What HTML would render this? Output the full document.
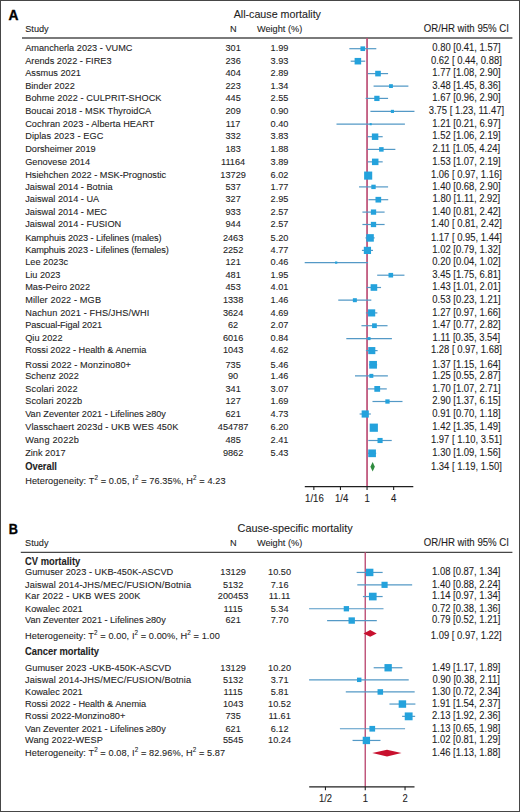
<!DOCTYPE html>
<html><head><meta charset="utf-8"><style>
html,body{margin:0;padding:0;background:#fff;}
body{width:520px;height:812px;overflow:hidden;}
svg{display:block;font-family:'Liberation Sans',sans-serif;}
text{stroke:#222;stroke-width:0.1px;paint-order:stroke;}
</style></head><body>
<svg width="520" height="812" viewBox="0 0 520 812" style="font-family:'Liberation Sans',sans-serif">
<rect x="0.5" y="0.5" width="519" height="811" fill="none" stroke="#464646" stroke-width="1"/>
<text transform="translate(8.50 19.55) scale(1.0000 1)" font-size="13.800" text-anchor="start" font-weight="bold" fill="#000" style="stroke:#000;stroke-width:0.35px">A</text>
<text transform="translate(277.30 17.50) scale(0.9259 1)" font-size="11.556" text-anchor="middle" fill="#1e1e1e">All-cause mortality</text>
<text transform="translate(25.20 32.40) scale(0.9259 1)" font-size="9.936" text-anchor="start" fill="#1e1e1e">Study</text>
<text transform="translate(233.40 32.40) scale(0.9259 1)" font-size="9.936" text-anchor="middle" fill="#1e1e1e">N</text>
<text transform="translate(279.60 32.40) scale(0.9259 1)" font-size="9.936" text-anchor="middle" fill="#1e1e1e">Weight (%)</text>
<text transform="translate(509.00 32.40) scale(0.9259 1)" font-size="10.422" text-anchor="end" fill="#1e1e1e">OR/HR with 95% CI</text>
<line x1="22.00" y1="37.90" x2="512.40" y2="37.90" stroke="#4e4e4e" stroke-width="1.5"/>
<line x1="367.05" y1="37.90" x2="367.05" y2="486.60" stroke="#bd4f76" stroke-width="1.7"/>
<text transform="translate(25.20 51.45) scale(0.9259 1)" font-size="9.936" text-anchor="start" fill="#1e1e1e">Amancherla 2023 - VUMC</text>
<text transform="translate(233.10 51.45) scale(0.9259 1)" font-size="9.936" text-anchor="middle" fill="#1e1e1e">301</text>
<text transform="translate(279.50 51.45) scale(0.9259 1)" font-size="9.936" text-anchor="middle" fill="#1e1e1e">1.99</text>
<text transform="translate(466.40 51.45) scale(0.9259 1)" font-size="10.217" text-anchor="middle" fill="#1e1e1e">0.80 [0.41, 1.57]</text>
<line x1="349.94" y1="48.70" x2="375.71" y2="48.70" stroke="#5399c6" stroke-width="1.2" stroke-linecap="square"/>
<rect x="360.44" y="46.37" width="4.66" height="4.66" fill="#24a2dc"/>
<text transform="translate(25.20 63.95) scale(0.9259 1)" font-size="9.936" text-anchor="start" fill="#1e1e1e">Arends 2022 - FIRE3</text>
<text transform="translate(233.10 63.95) scale(0.9259 1)" font-size="9.936" text-anchor="middle" fill="#1e1e1e">236</text>
<text transform="translate(279.50 63.95) scale(0.9259 1)" font-size="9.936" text-anchor="middle" fill="#1e1e1e">3.93</text>
<text transform="translate(466.40 63.95) scale(0.9259 1)" font-size="10.217" text-anchor="middle" fill="#1e1e1e">0.62 [ 0.44, 0.88]</text>
<line x1="351.30" y1="61.20" x2="364.60" y2="61.20" stroke="#5399c6" stroke-width="1.2" stroke-linecap="square"/>
<rect x="354.61" y="57.93" width="6.54" height="6.54" fill="#24a2dc"/>
<text transform="translate(25.20 76.35) scale(0.9259 1)" font-size="9.936" text-anchor="start" fill="#1e1e1e">Assmus 2021</text>
<text transform="translate(233.10 76.35) scale(0.9259 1)" font-size="9.936" text-anchor="middle" fill="#1e1e1e">404</text>
<text transform="translate(279.50 76.35) scale(0.9259 1)" font-size="9.936" text-anchor="middle" fill="#1e1e1e">2.89</text>
<text transform="translate(466.40 76.35) scale(0.9259 1)" font-size="10.217" text-anchor="middle" fill="#1e1e1e">1.77 [1.08, 2.90]</text>
<line x1="368.53" y1="73.60" x2="387.48" y2="73.60" stroke="#5399c6" stroke-width="1.2" stroke-linecap="square"/>
<rect x="375.20" y="70.79" width="5.61" height="5.61" fill="#24a2dc"/>
<text transform="translate(25.20 88.85) scale(0.9259 1)" font-size="9.936" text-anchor="start" fill="#1e1e1e">Binder 2022</text>
<text transform="translate(233.10 88.85) scale(0.9259 1)" font-size="9.936" text-anchor="middle" fill="#1e1e1e">223</text>
<text transform="translate(279.50 88.85) scale(0.9259 1)" font-size="9.936" text-anchor="middle" fill="#1e1e1e">1.34</text>
<text transform="translate(466.40 88.85) scale(0.9259 1)" font-size="10.217" text-anchor="middle" fill="#1e1e1e">3.48 [1.45, 8.36]</text>
<line x1="374.18" y1="86.10" x2="407.79" y2="86.10" stroke="#5399c6" stroke-width="1.2" stroke-linecap="square"/>
<rect x="389.07" y="84.19" width="3.82" height="3.82" fill="#24a2dc"/>
<text transform="translate(25.20 101.15) scale(0.9259 1)" font-size="9.936" text-anchor="start" fill="#1e1e1e" textLength="147.22" lengthAdjust="spacing">Bohme 2022 - CULPRIT-SHOCK</text>
<text transform="translate(233.10 101.15) scale(0.9259 1)" font-size="9.936" text-anchor="middle" fill="#1e1e1e">445</text>
<text transform="translate(279.50 101.15) scale(0.9259 1)" font-size="9.936" text-anchor="middle" fill="#1e1e1e">2.55</text>
<text transform="translate(466.40 101.15) scale(0.9259 1)" font-size="10.217" text-anchor="middle" fill="#1e1e1e">1.67 [0.96, 2.90]</text>
<line x1="366.27" y1="98.40" x2="387.48" y2="98.40" stroke="#5399c6" stroke-width="1.2" stroke-linecap="square"/>
<rect x="374.26" y="95.77" width="5.27" height="5.27" fill="#24a2dc"/>
<text transform="translate(25.20 114.15) scale(0.9259 1)" font-size="9.936" text-anchor="start" fill="#1e1e1e" textLength="136.14" lengthAdjust="spacing">Boucai 2018 - MSK ThyroidCA</text>
<text transform="translate(233.10 114.15) scale(0.9259 1)" font-size="9.936" text-anchor="middle" fill="#1e1e1e">209</text>
<text transform="translate(279.50 114.15) scale(0.9259 1)" font-size="9.936" text-anchor="middle" fill="#1e1e1e">0.90</text>
<text transform="translate(466.40 114.15) scale(0.9259 1)" font-size="10.217" text-anchor="middle" fill="#1e1e1e">3.75 [ 1.23, 11.47]</text>
<line x1="371.02" y1="111.40" x2="413.86" y2="111.40" stroke="#5399c6" stroke-width="1.2" stroke-linecap="square"/>
<rect x="390.85" y="109.83" width="3.13" height="3.13" fill="#24a2dc"/>
<text transform="translate(25.20 126.95) scale(0.9259 1)" font-size="9.936" text-anchor="start" fill="#1e1e1e" textLength="139.46" lengthAdjust="spacing">Cochran 2023 - Alberta HEART</text>
<text transform="translate(233.10 126.95) scale(0.9259 1)" font-size="9.936" text-anchor="middle" fill="#1e1e1e">117</text>
<text transform="translate(279.50 126.95) scale(0.9259 1)" font-size="9.936" text-anchor="middle" fill="#1e1e1e">0.40</text>
<text transform="translate(466.40 126.95) scale(0.9259 1)" font-size="10.217" text-anchor="middle" fill="#1e1e1e">1.21 [0.21, 6.97]</text>
<line x1="337.10" y1="124.20" x2="404.31" y2="124.20" stroke="#5399c6" stroke-width="1.2" stroke-linecap="square"/>
<rect x="369.66" y="123.16" width="2.09" height="2.09" fill="#24a2dc"/>
<text transform="translate(25.20 139.45) scale(0.9259 1)" font-size="9.936" text-anchor="start" fill="#1e1e1e" textLength="84.36" lengthAdjust="spacing">Diplas 2023 - EGC</text>
<text transform="translate(233.10 139.45) scale(0.9259 1)" font-size="9.936" text-anchor="middle" fill="#1e1e1e">332</text>
<text transform="translate(279.50 139.45) scale(0.9259 1)" font-size="9.936" text-anchor="middle" fill="#1e1e1e">3.83</text>
<text transform="translate(466.40 139.45) scale(0.9259 1)" font-size="10.217" text-anchor="middle" fill="#1e1e1e">1.52 [1.06, 2.19]</text>
<line x1="368.17" y1="136.70" x2="382.09" y2="136.70" stroke="#5399c6" stroke-width="1.2" stroke-linecap="square"/>
<rect x="371.86" y="133.47" width="6.46" height="6.46" fill="#24a2dc"/>
<text transform="translate(25.20 152.15) scale(0.9259 1)" font-size="9.936" text-anchor="start" fill="#1e1e1e">Dorsheimer 2019</text>
<text transform="translate(233.10 152.15) scale(0.9259 1)" font-size="9.936" text-anchor="middle" fill="#1e1e1e">183</text>
<text transform="translate(279.50 152.15) scale(0.9259 1)" font-size="9.936" text-anchor="middle" fill="#1e1e1e">1.88</text>
<text transform="translate(466.40 152.15) scale(0.9259 1)" font-size="10.217" text-anchor="middle" fill="#1e1e1e">2.11 [1.05, 4.24]</text>
<line x1="367.99" y1="149.40" x2="394.77" y2="149.40" stroke="#5399c6" stroke-width="1.2" stroke-linecap="square"/>
<rect x="379.11" y="147.14" width="4.52" height="4.52" fill="#24a2dc"/>
<text transform="translate(25.20 164.60) scale(0.9259 1)" font-size="9.936" text-anchor="start" fill="#1e1e1e">Genovese 2014</text>
<text transform="translate(233.10 164.60) scale(0.9259 1)" font-size="9.936" text-anchor="middle" fill="#1e1e1e">11164</text>
<text transform="translate(279.50 164.60) scale(0.9259 1)" font-size="9.936" text-anchor="middle" fill="#1e1e1e">3.89</text>
<text transform="translate(466.40 164.60) scale(0.9259 1)" font-size="10.217" text-anchor="middle" fill="#1e1e1e">1.53 [1.07, 2.19]</text>
<line x1="368.35" y1="161.85" x2="382.09" y2="161.85" stroke="#5399c6" stroke-width="1.2" stroke-linecap="square"/>
<rect x="371.96" y="158.60" width="6.51" height="6.51" fill="#24a2dc"/>
<text transform="translate(25.20 178.35) scale(0.9259 1)" font-size="9.936" text-anchor="start" fill="#1e1e1e">Hsiehchen 2022 - MSK-Prognostic</text>
<text transform="translate(233.10 178.35) scale(0.9259 1)" font-size="9.936" text-anchor="middle" fill="#1e1e1e">13729</text>
<text transform="translate(279.50 178.35) scale(0.9259 1)" font-size="9.936" text-anchor="middle" fill="#1e1e1e">6.02</text>
<text transform="translate(466.40 178.35) scale(0.9259 1)" font-size="10.217" text-anchor="middle" fill="#1e1e1e">1.06 [ 0.97, 1.16]</text>
<line x1="366.47" y1="175.60" x2="369.90" y2="175.60" stroke="#5399c6" stroke-width="1.2" stroke-linecap="square"/>
<rect x="364.12" y="171.55" width="8.10" height="8.10" fill="#24a2dc"/>
<text transform="translate(25.20 189.65) scale(0.9259 1)" font-size="9.936" text-anchor="start" fill="#1e1e1e">Jaiswal 2014 - Botnia</text>
<text transform="translate(233.10 189.65) scale(0.9259 1)" font-size="9.936" text-anchor="middle" fill="#1e1e1e">537</text>
<text transform="translate(279.50 189.65) scale(0.9259 1)" font-size="9.936" text-anchor="middle" fill="#1e1e1e">1.77</text>
<text transform="translate(466.40 189.65) scale(0.9259 1)" font-size="10.217" text-anchor="middle" fill="#1e1e1e">1.40 [0.68, 2.90]</text>
<line x1="359.65" y1="186.90" x2="387.48" y2="186.90" stroke="#5399c6" stroke-width="1.2" stroke-linecap="square"/>
<rect x="371.31" y="184.70" width="4.39" height="4.39" fill="#24a2dc"/>
<text transform="translate(25.20 202.45) scale(0.9259 1)" font-size="9.936" text-anchor="start" fill="#1e1e1e">Jaiswal 2014 - UA</text>
<text transform="translate(233.10 202.45) scale(0.9259 1)" font-size="9.936" text-anchor="middle" fill="#1e1e1e">327</text>
<text transform="translate(279.50 202.45) scale(0.9259 1)" font-size="9.936" text-anchor="middle" fill="#1e1e1e">2.95</text>
<text transform="translate(466.40 202.45) scale(0.9259 1)" font-size="10.217" text-anchor="middle" fill="#1e1e1e">1.80 [1.11, 2.92]</text>
<line x1="369.05" y1="199.70" x2="387.61" y2="199.70" stroke="#5399c6" stroke-width="1.2" stroke-linecap="square"/>
<rect x="375.49" y="196.87" width="5.67" height="5.67" fill="#24a2dc"/>
<text transform="translate(25.20 214.85) scale(0.9259 1)" font-size="9.936" text-anchor="start" fill="#1e1e1e">Jaiswal 2014 - MEC</text>
<text transform="translate(233.10 214.85) scale(0.9259 1)" font-size="9.936" text-anchor="middle" fill="#1e1e1e">933</text>
<text transform="translate(279.50 214.85) scale(0.9259 1)" font-size="9.936" text-anchor="middle" fill="#1e1e1e">2.57</text>
<text transform="translate(466.40 214.85) scale(0.9259 1)" font-size="10.217" text-anchor="middle" fill="#1e1e1e">1.40 [0.81, 2.42]</text>
<line x1="363.01" y1="212.10" x2="384.01" y2="212.10" stroke="#5399c6" stroke-width="1.2" stroke-linecap="square"/>
<rect x="370.86" y="209.45" width="5.29" height="5.29" fill="#24a2dc"/>
<text transform="translate(25.20 227.25) scale(0.9259 1)" font-size="9.936" text-anchor="start" fill="#1e1e1e">Jaiswal 2014 - FUSION</text>
<text transform="translate(233.10 227.25) scale(0.9259 1)" font-size="9.936" text-anchor="middle" fill="#1e1e1e">944</text>
<text transform="translate(279.50 227.25) scale(0.9259 1)" font-size="9.936" text-anchor="middle" fill="#1e1e1e">2.57</text>
<text transform="translate(466.40 227.25) scale(0.9259 1)" font-size="10.217" text-anchor="middle" fill="#1e1e1e">1.40 [ 0.81, 2.42]</text>
<line x1="363.01" y1="224.50" x2="384.01" y2="224.50" stroke="#5399c6" stroke-width="1.2" stroke-linecap="square"/>
<rect x="370.86" y="221.85" width="5.29" height="5.29" fill="#24a2dc"/>
<text transform="translate(25.20 240.65) scale(0.9259 1)" font-size="9.936" text-anchor="start" fill="#1e1e1e" textLength="147.22" lengthAdjust="spacing">Kamphuis 2023 - Lifelines (males)</text>
<text transform="translate(233.10 240.65) scale(0.9259 1)" font-size="9.936" text-anchor="middle" fill="#1e1e1e">2463</text>
<text transform="translate(279.50 240.65) scale(0.9259 1)" font-size="9.936" text-anchor="middle" fill="#1e1e1e">5.20</text>
<text transform="translate(466.40 240.65) scale(0.9259 1)" font-size="10.217" text-anchor="middle" fill="#1e1e1e">1.17 [ 0.95, 1.44]</text>
<line x1="366.07" y1="237.90" x2="374.05" y2="237.90" stroke="#5399c6" stroke-width="1.2" stroke-linecap="square"/>
<rect x="366.30" y="234.14" width="7.53" height="7.53" fill="#24a2dc"/>
<text transform="translate(25.20 253.15) scale(0.9259 1)" font-size="9.936" text-anchor="start" fill="#1e1e1e" textLength="155.06" lengthAdjust="spacing">Kamphuis 2023 - Lifelines (females)</text>
<text transform="translate(233.10 253.15) scale(0.9259 1)" font-size="9.936" text-anchor="middle" fill="#1e1e1e">2252</text>
<text transform="translate(279.50 253.15) scale(0.9259 1)" font-size="9.936" text-anchor="middle" fill="#1e1e1e">4.77</text>
<text transform="translate(466.40 253.15) scale(0.9259 1)" font-size="10.217" text-anchor="middle" fill="#1e1e1e">1.02 [0.79, 1.32]</text>
<line x1="362.53" y1="250.40" x2="372.38" y2="250.40" stroke="#5399c6" stroke-width="1.2" stroke-linecap="square"/>
<rect x="363.83" y="246.80" width="7.21" height="7.21" fill="#24a2dc"/>
<text transform="translate(25.20 265.35) scale(0.9259 1)" font-size="9.936" text-anchor="start" fill="#1e1e1e">Lee 2023c</text>
<text transform="translate(233.10 265.35) scale(0.9259 1)" font-size="9.936" text-anchor="middle" fill="#1e1e1e">121</text>
<text transform="translate(279.50 265.35) scale(0.9259 1)" font-size="9.936" text-anchor="middle" fill="#1e1e1e">0.46</text>
<text transform="translate(466.40 265.35) scale(0.9259 1)" font-size="10.217" text-anchor="middle" fill="#1e1e1e">0.20 [0.04, 1.02]</text>
<line x1="305.29" y1="262.60" x2="367.43" y2="262.60" stroke="#5399c6" stroke-width="1.2" stroke-linecap="square"/>
<rect x="335.05" y="261.48" width="2.24" height="2.24" fill="#24a2dc"/>
<text transform="translate(25.20 277.95) scale(0.9259 1)" font-size="9.936" text-anchor="start" fill="#1e1e1e">Liu 2023</text>
<text transform="translate(233.10 277.95) scale(0.9259 1)" font-size="9.936" text-anchor="middle" fill="#1e1e1e">481</text>
<text transform="translate(279.50 277.95) scale(0.9259 1)" font-size="9.936" text-anchor="middle" fill="#1e1e1e">1.95</text>
<text transform="translate(466.40 277.95) scale(0.9259 1)" font-size="10.217" text-anchor="middle" fill="#1e1e1e">3.45 [1.75, 6.81]</text>
<line x1="377.79" y1="275.20" x2="403.86" y2="275.20" stroke="#5399c6" stroke-width="1.2" stroke-linecap="square"/>
<rect x="388.51" y="272.90" width="4.61" height="4.61" fill="#24a2dc"/>
<text transform="translate(25.20 290.25) scale(0.9259 1)" font-size="9.936" text-anchor="start" fill="#1e1e1e">Mas-Peiro 2022</text>
<text transform="translate(233.10 290.25) scale(0.9259 1)" font-size="9.936" text-anchor="middle" fill="#1e1e1e">453</text>
<text transform="translate(279.50 290.25) scale(0.9259 1)" font-size="9.936" text-anchor="middle" fill="#1e1e1e">4.01</text>
<text transform="translate(466.40 290.25) scale(0.9259 1)" font-size="10.217" text-anchor="middle" fill="#1e1e1e">1.43 [1.01, 2.01]</text>
<line x1="367.24" y1="287.50" x2="380.45" y2="287.50" stroke="#5399c6" stroke-width="1.2" stroke-linecap="square"/>
<rect x="370.61" y="284.20" width="6.61" height="6.61" fill="#24a2dc"/>
<text transform="translate(25.20 302.95) scale(0.9259 1)" font-size="9.936" text-anchor="start" fill="#1e1e1e" textLength="81.91" lengthAdjust="spacing">Miller 2022 - MGB</text>
<text transform="translate(233.10 302.95) scale(0.9259 1)" font-size="9.936" text-anchor="middle" fill="#1e1e1e">1338</text>
<text transform="translate(279.50 302.95) scale(0.9259 1)" font-size="9.936" text-anchor="middle" fill="#1e1e1e">1.46</text>
<text transform="translate(466.40 302.95) scale(0.9259 1)" font-size="10.217" text-anchor="middle" fill="#1e1e1e">0.53 [0.23, 1.21]</text>
<line x1="338.85" y1="300.20" x2="370.71" y2="300.20" stroke="#5399c6" stroke-width="1.2" stroke-linecap="square"/>
<rect x="352.87" y="298.21" width="3.99" height="3.99" fill="#24a2dc"/>
<text transform="translate(25.20 315.65) scale(0.9259 1)" font-size="9.936" text-anchor="start" fill="#1e1e1e" textLength="133.95" lengthAdjust="spacing">Nachun 2021 - FHS/JHS/WHI</text>
<text transform="translate(233.10 315.65) scale(0.9259 1)" font-size="9.936" text-anchor="middle" fill="#1e1e1e">3624</text>
<text transform="translate(279.50 315.65) scale(0.9259 1)" font-size="9.936" text-anchor="middle" fill="#1e1e1e">4.69</text>
<text transform="translate(466.40 315.65) scale(0.9259 1)" font-size="10.217" text-anchor="middle" fill="#1e1e1e">1.27 [0.97, 1.66]</text>
<line x1="366.47" y1="312.90" x2="376.77" y2="312.90" stroke="#5399c6" stroke-width="1.2" stroke-linecap="square"/>
<rect x="368.06" y="309.33" width="7.15" height="7.15" fill="#24a2dc"/>
<text transform="translate(25.20 328.45) scale(0.9259 1)" font-size="9.936" text-anchor="start" fill="#1e1e1e" textLength="83.02" lengthAdjust="spacing">Pascual-Figal 2021</text>
<text transform="translate(233.10 328.45) scale(0.9259 1)" font-size="9.936" text-anchor="middle" fill="#1e1e1e">62</text>
<text transform="translate(279.50 328.45) scale(0.9259 1)" font-size="9.936" text-anchor="middle" fill="#1e1e1e">2.07</text>
<text transform="translate(466.40 328.45) scale(0.9259 1)" font-size="10.217" text-anchor="middle" fill="#1e1e1e">1.47 [0.77, 2.82]</text>
<line x1="362.03" y1="325.70" x2="386.94" y2="325.70" stroke="#5399c6" stroke-width="1.2" stroke-linecap="square"/>
<rect x="372.07" y="323.33" width="4.75" height="4.75" fill="#24a2dc"/>
<text transform="translate(25.20 341.35) scale(0.9259 1)" font-size="9.936" text-anchor="start" fill="#1e1e1e">Qiu 2022</text>
<text transform="translate(233.10 341.35) scale(0.9259 1)" font-size="9.936" text-anchor="middle" fill="#1e1e1e">6016</text>
<text transform="translate(279.50 341.35) scale(0.9259 1)" font-size="9.936" text-anchor="middle" fill="#1e1e1e">0.84</text>
<text transform="translate(466.40 341.35) scale(0.9259 1)" font-size="10.217" text-anchor="middle" fill="#1e1e1e">1.11 [0.35, 3.54]</text>
<line x1="346.91" y1="338.60" x2="391.31" y2="338.60" stroke="#5399c6" stroke-width="1.2" stroke-linecap="square"/>
<rect x="367.54" y="337.09" width="3.02" height="3.02" fill="#24a2dc"/>
<text transform="translate(25.20 353.35) scale(0.9259 1)" font-size="9.936" text-anchor="start" fill="#1e1e1e" textLength="130.77" lengthAdjust="spacing">Rossi 2022 - Health &amp; Anemia</text>
<text transform="translate(233.10 353.35) scale(0.9259 1)" font-size="9.936" text-anchor="middle" fill="#1e1e1e">1043</text>
<text transform="translate(279.50 353.35) scale(0.9259 1)" font-size="9.936" text-anchor="middle" fill="#1e1e1e">4.62</text>
<text transform="translate(466.40 353.35) scale(0.9259 1)" font-size="10.217" text-anchor="middle" fill="#1e1e1e">1.28 [ 0.97, 1.68]</text>
<line x1="366.47" y1="350.60" x2="377.00" y2="350.60" stroke="#5399c6" stroke-width="1.2" stroke-linecap="square"/>
<rect x="368.24" y="347.05" width="7.09" height="7.09" fill="#24a2dc"/>
<text transform="translate(25.20 367.55) scale(0.9259 1)" font-size="9.936" text-anchor="start" fill="#1e1e1e" textLength="114.22" lengthAdjust="spacing">Rossi 2022 - Monzino80+</text>
<text transform="translate(233.10 367.55) scale(0.9259 1)" font-size="9.936" text-anchor="middle" fill="#1e1e1e">735</text>
<text transform="translate(279.50 367.55) scale(0.9259 1)" font-size="9.936" text-anchor="middle" fill="#1e1e1e">5.46</text>
<text transform="translate(466.40 367.55) scale(0.9259 1)" font-size="10.217" text-anchor="middle" fill="#1e1e1e">1.37 [1.15, 1.64]</text>
<line x1="369.73" y1="364.80" x2="376.54" y2="364.80" stroke="#5399c6" stroke-width="1.2" stroke-linecap="square"/>
<rect x="369.24" y="360.94" width="7.71" height="7.71" fill="#24a2dc"/>
<text transform="translate(25.20 378.60) scale(0.9259 1)" font-size="9.936" text-anchor="start" fill="#1e1e1e">Schenz 2022</text>
<text transform="translate(233.10 378.60) scale(0.9259 1)" font-size="9.936" text-anchor="middle" fill="#1e1e1e">90</text>
<text transform="translate(279.50 378.60) scale(0.9259 1)" font-size="9.936" text-anchor="middle" fill="#1e1e1e">1.46</text>
<text transform="translate(466.40 378.60) scale(0.9259 1)" font-size="10.217" text-anchor="middle" fill="#1e1e1e">1.25 [0.55, 2.87]</text>
<line x1="355.58" y1="375.85" x2="387.28" y2="375.85" stroke="#5399c6" stroke-width="1.2" stroke-linecap="square"/>
<rect x="369.34" y="373.86" width="3.99" height="3.99" fill="#24a2dc"/>
<text transform="translate(25.20 391.65) scale(0.9259 1)" font-size="9.936" text-anchor="start" fill="#1e1e1e" textLength="56.58" lengthAdjust="spacing">Scolari 2022</text>
<text transform="translate(233.10 391.65) scale(0.9259 1)" font-size="9.936" text-anchor="middle" fill="#1e1e1e">341</text>
<text transform="translate(279.50 391.65) scale(0.9259 1)" font-size="9.936" text-anchor="middle" fill="#1e1e1e">3.07</text>
<text transform="translate(466.40 391.65) scale(0.9259 1)" font-size="10.217" text-anchor="middle" fill="#1e1e1e">1.70 [1.07, 2.71]</text>
<line x1="368.35" y1="388.90" x2="386.18" y2="388.90" stroke="#5399c6" stroke-width="1.2" stroke-linecap="square"/>
<rect x="374.34" y="386.01" width="5.78" height="5.78" fill="#24a2dc"/>
<text transform="translate(25.20 404.25) scale(0.9259 1)" font-size="9.936" text-anchor="start" fill="#1e1e1e" textLength="61.55" lengthAdjust="spacing">Scolari 2022b</text>
<text transform="translate(233.10 404.25) scale(0.9259 1)" font-size="9.936" text-anchor="middle" fill="#1e1e1e">127</text>
<text transform="translate(279.50 404.25) scale(0.9259 1)" font-size="9.936" text-anchor="middle" fill="#1e1e1e">1.69</text>
<text transform="translate(466.40 404.25) scale(0.9259 1)" font-size="10.217" text-anchor="middle" fill="#1e1e1e">2.90 [1.37, 6.15]</text>
<line x1="373.09" y1="401.50" x2="401.90" y2="401.50" stroke="#5399c6" stroke-width="1.2" stroke-linecap="square"/>
<rect x="385.33" y="399.36" width="4.29" height="4.29" fill="#24a2dc"/>
<text transform="translate(25.20 416.75) scale(0.9259 1)" font-size="9.936" text-anchor="start" fill="#1e1e1e" textLength="152.03" lengthAdjust="spacing">Van Zeventer 2021 - Lifelines ≥80y</text>
<text transform="translate(233.10 416.75) scale(0.9259 1)" font-size="9.936" text-anchor="middle" fill="#1e1e1e">621</text>
<text transform="translate(279.50 416.75) scale(0.9259 1)" font-size="9.936" text-anchor="middle" fill="#1e1e1e">4.73</text>
<text transform="translate(466.40 416.75) scale(0.9259 1)" font-size="10.217" text-anchor="middle" fill="#1e1e1e">0.91 [0.70, 1.18]</text>
<line x1="360.21" y1="414.00" x2="370.23" y2="414.00" stroke="#5399c6" stroke-width="1.2" stroke-linecap="square"/>
<rect x="361.65" y="410.41" width="7.18" height="7.18" fill="#24a2dc"/>
<text transform="translate(25.20 430.45) scale(0.9259 1)" font-size="9.936" text-anchor="start" fill="#1e1e1e" textLength="165.41" lengthAdjust="spacing">Vlasschaert 2023d - UKB WES 450K</text>
<text transform="translate(233.10 430.45) scale(0.9259 1)" font-size="9.936" text-anchor="middle" fill="#1e1e1e">454787</text>
<text transform="translate(279.50 430.45) scale(0.9259 1)" font-size="9.936" text-anchor="middle" fill="#1e1e1e">6.20</text>
<text transform="translate(466.40 430.45) scale(0.9259 1)" font-size="10.217" text-anchor="middle" fill="#1e1e1e">1.42 [1.35, 1.49]</text>
<line x1="372.81" y1="427.70" x2="374.70" y2="427.70" stroke="#5399c6" stroke-width="1.2" stroke-linecap="square"/>
<rect x="369.67" y="423.59" width="8.22" height="8.22" fill="#24a2dc"/>
<text transform="translate(25.20 443.25) scale(0.9259 1)" font-size="9.936" text-anchor="start" fill="#1e1e1e" textLength="58.07" lengthAdjust="spacing">Wang 2022b</text>
<text transform="translate(233.10 443.25) scale(0.9259 1)" font-size="9.936" text-anchor="middle" fill="#1e1e1e">485</text>
<text transform="translate(279.50 443.25) scale(0.9259 1)" font-size="9.936" text-anchor="middle" fill="#1e1e1e">2.41</text>
<text transform="translate(466.40 443.25) scale(0.9259 1)" font-size="10.217" text-anchor="middle" fill="#1e1e1e">1.97 [ 1.10, 3.51]</text>
<line x1="368.88" y1="440.50" x2="391.14" y2="440.50" stroke="#5399c6" stroke-width="1.2" stroke-linecap="square"/>
<rect x="377.50" y="437.94" width="5.12" height="5.12" fill="#24a2dc"/>
<text transform="translate(25.20 456.05) scale(0.9259 1)" font-size="9.936" text-anchor="start" fill="#1e1e1e">Zink 2017</text>
<text transform="translate(233.10 456.05) scale(0.9259 1)" font-size="9.936" text-anchor="middle" fill="#1e1e1e">9862</text>
<text transform="translate(279.50 456.05) scale(0.9259 1)" font-size="9.936" text-anchor="middle" fill="#1e1e1e">5.43</text>
<text transform="translate(466.40 456.05) scale(0.9259 1)" font-size="10.217" text-anchor="middle" fill="#1e1e1e">1.30 [1.09, 1.56]</text>
<line x1="368.70" y1="453.30" x2="375.58" y2="453.30" stroke="#5399c6" stroke-width="1.2" stroke-linecap="square"/>
<rect x="368.24" y="449.46" width="7.69" height="7.69" fill="#24a2dc"/>
<text transform="translate(25.20 469.50) scale(0.9259 1)" font-size="10.098" text-anchor="start" font-weight="bold" fill="#1e1e1e">Overall</text>
<text transform="translate(466.40 469.50) scale(0.9259 1)" font-size="10.217" text-anchor="middle" fill="#1e1e1e">1.34 [ 1.19, 1.50]</text>
<polygon points="370.39,466.80 372.67,462.10 374.83,466.80 372.67,471.50" fill="#2e8b3e"/>
<text transform="translate(25.20 484.40) scale(0.9259 1)" font-size="9.936" text-anchor="start" fill="#1e1e1e" textLength="216.43" lengthAdjust="spacing">Heterogeneity: T<tspan font-size="6.8" dy="-4.1">2</tspan><tspan dy="4.1"> = 0.05, I</tspan><tspan font-size="6.8" dy="-4.1">2</tspan><tspan dy="4.1"> = 76.35%, H</tspan><tspan font-size="6.8" dy="-4.1">2</tspan><tspan dy="4.1"> = 4.23</tspan></text>
<line x1="304.80" y1="486.60" x2="413.30" y2="486.60" stroke="#202020" stroke-width="1.2"/>
<line x1="313.85" y1="486.60" x2="313.85" y2="490.00" stroke="#202020" stroke-width="1.1"/>
<text transform="translate(314.45 502.10) scale(0.9259 1)" font-size="10.368" text-anchor="middle" fill="#1e1e1e">1/16</text>
<line x1="340.45" y1="486.60" x2="340.45" y2="490.00" stroke="#202020" stroke-width="1.1"/>
<text transform="translate(341.55 502.10) scale(0.9259 1)" font-size="10.368" text-anchor="middle" fill="#1e1e1e">1/4</text>
<line x1="367.05" y1="486.60" x2="367.05" y2="490.00" stroke="#202020" stroke-width="1.1"/>
<text transform="translate(367.05 502.10) scale(0.9259 1)" font-size="10.368" text-anchor="middle" fill="#1e1e1e">1</text>
<line x1="393.65" y1="486.60" x2="393.65" y2="490.00" stroke="#202020" stroke-width="1.1"/>
<text transform="translate(393.65 502.10) scale(0.9259 1)" font-size="10.368" text-anchor="middle" fill="#1e1e1e">4</text>
<text transform="translate(8.75 533.5) scale(0.92 1)" font-size="13.8" font-weight="bold" fill="#000" style="stroke:#000;stroke-width:0.35px">B</text>
<text transform="translate(295.10 531.70) scale(0.9259 1)" font-size="11.718" text-anchor="middle" fill="#1e1e1e">Cause-specific mortality</text>
<text transform="translate(25.00 546.30) scale(0.9259 1)" font-size="9.936" text-anchor="start" fill="#1e1e1e">Study</text>
<text transform="translate(233.40 546.30) scale(0.9259 1)" font-size="9.936" text-anchor="middle" fill="#1e1e1e">N</text>
<text transform="translate(279.60 546.30) scale(0.9259 1)" font-size="9.936" text-anchor="middle" fill="#1e1e1e">Weight (%)</text>
<text transform="translate(509.00 546.30) scale(0.9259 1)" font-size="10.422" text-anchor="end" fill="#1e1e1e">OR/HR with 95% CI</text>
<line x1="20.80" y1="552.30" x2="512.40" y2="552.30" stroke="#474747" stroke-width="1.3"/>
<line x1="365.25" y1="552.30" x2="365.25" y2="786.80" stroke="#bd4f76" stroke-width="1.4"/>
<text transform="translate(25.00 564.60) scale(0.9259 1)" font-size="10.152" text-anchor="start" font-weight="bold" fill="#1e1e1e">CV mortality</text>
<text transform="translate(25.00 575.35) scale(0.9259 1)" font-size="9.936" text-anchor="start" fill="#1e1e1e" textLength="160.13" lengthAdjust="spacing">Gumuser 2023 - UKB-450K-ASCVD</text>
<text transform="translate(233.10 575.35) scale(0.9259 1)" font-size="9.936" text-anchor="middle" fill="#1e1e1e">13129</text>
<text transform="translate(279.60 575.35) scale(0.9259 1)" font-size="9.936" text-anchor="middle" fill="#1e1e1e">10.50</text>
<text transform="translate(466.20 575.35) scale(0.9259 1)" font-size="10.217" text-anchor="middle" fill="#1e1e1e">1.08 [0.87, 1.34]</text>
<line x1="357.25" y1="572.45" x2="382.05" y2="572.45" stroke="#5399c6" stroke-width="1.2" stroke-linecap="square"/>
<rect x="365.94" y="568.72" width="7.45" height="7.45" fill="#24a2dc"/>
<text transform="translate(25.00 587.75) scale(0.9259 1)" font-size="9.936" text-anchor="start" fill="#1e1e1e" textLength="179.37" lengthAdjust="spacing">Jaiswal 2014-JHS/MEC/FUSION/Botnia</text>
<text transform="translate(233.10 587.75) scale(0.9259 1)" font-size="9.936" text-anchor="middle" fill="#1e1e1e">5132</text>
<text transform="translate(279.60 587.75) scale(0.9259 1)" font-size="9.936" text-anchor="middle" fill="#1e1e1e">7.16</text>
<text transform="translate(466.20 587.75) scale(0.9259 1)" font-size="10.217" text-anchor="middle" fill="#1e1e1e">1.40 [0.88, 2.24]</text>
<line x1="357.91" y1="584.85" x2="411.56" y2="584.85" stroke="#5399c6" stroke-width="1.2" stroke-linecap="square"/>
<rect x="381.49" y="581.77" width="6.15" height="6.15" fill="#24a2dc"/>
<text transform="translate(25.00 599.45) scale(0.9259 1)" font-size="9.936" text-anchor="start" fill="#1e1e1e" textLength="124.68" lengthAdjust="spacing">Kar 2022 - UKB WES 200K</text>
<text transform="translate(233.10 599.45) scale(0.9259 1)" font-size="9.936" text-anchor="middle" fill="#1e1e1e">200453</text>
<text transform="translate(279.60 599.45) scale(0.9259 1)" font-size="9.936" text-anchor="middle" fill="#1e1e1e">11.11</text>
<text transform="translate(466.20 599.45) scale(0.9259 1)" font-size="10.217" text-anchor="middle" fill="#1e1e1e">1.14 [0.97, 1.34]</text>
<line x1="363.50" y1="596.55" x2="382.05" y2="596.55" stroke="#5399c6" stroke-width="1.2" stroke-linecap="square"/>
<rect x="368.94" y="592.72" width="7.67" height="7.67" fill="#24a2dc"/>
<text transform="translate(25.00 611.65) scale(0.9259 1)" font-size="9.936" text-anchor="start" fill="#1e1e1e">Kowalec 2021</text>
<text transform="translate(233.10 611.65) scale(0.9259 1)" font-size="9.936" text-anchor="middle" fill="#1e1e1e">1115</text>
<text transform="translate(279.60 611.65) scale(0.9259 1)" font-size="9.936" text-anchor="middle" fill="#1e1e1e">5.34</text>
<text transform="translate(466.20 611.65) scale(0.9259 1)" font-size="10.217" text-anchor="middle" fill="#1e1e1e">0.72 [0.38, 1.36]</text>
<line x1="309.69" y1="608.75" x2="382.91" y2="608.75" stroke="#5399c6" stroke-width="1.2" stroke-linecap="square"/>
<rect x="343.73" y="606.09" width="5.31" height="5.31" fill="#24a2dc"/>
<text transform="translate(25.00 623.45) scale(0.9259 1)" font-size="9.936" text-anchor="start" fill="#1e1e1e" textLength="152.03" lengthAdjust="spacing">Van Zeventer 2021 - Lifelines ≥80y</text>
<text transform="translate(233.10 623.45) scale(0.9259 1)" font-size="9.936" text-anchor="middle" fill="#1e1e1e">621</text>
<text transform="translate(279.60 623.45) scale(0.9259 1)" font-size="9.936" text-anchor="middle" fill="#1e1e1e">7.70</text>
<text transform="translate(466.20 623.45) scale(0.9259 1)" font-size="10.217" text-anchor="middle" fill="#1e1e1e">0.79 [0.52, 1.21]</text>
<line x1="327.70" y1="620.55" x2="376.20" y2="620.55" stroke="#5399c6" stroke-width="1.2" stroke-linecap="square"/>
<rect x="348.52" y="617.36" width="6.38" height="6.38" fill="#24a2dc"/>
<text transform="translate(25.00 639.20) scale(0.9259 1)" font-size="9.936" text-anchor="start" fill="#1e1e1e" textLength="210.38" lengthAdjust="spacing">Heterogeneity: T<tspan font-size="6.8" dy="-4.1">2</tspan><tspan dy="4.1"> = 0.00, I</tspan><tspan font-size="6.8" dy="-4.1">2</tspan><tspan dy="4.1"> = 0.00%, H</tspan><tspan font-size="6.8" dy="-4.1">2</tspan><tspan dy="4.1"> = 1.00</tspan></text>
<text transform="translate(466.20 639.20) scale(0.9259 1)" font-size="10.217" text-anchor="middle" fill="#1e1e1e">1.09 [ 0.97, 1.22]</text>
<polygon points="363.50,633.40 370.20,630.00 376.67,633.40 370.20,636.80" fill="#c8102e"/>
<text transform="translate(25.00 655.40) scale(0.9259 1)" font-size="10.152" text-anchor="start" font-weight="bold" fill="#1e1e1e">Cancer mortality</text>
<text transform="translate(25.00 670.65) scale(0.9259 1)" font-size="9.936" text-anchor="start" fill="#1e1e1e" textLength="157.91" lengthAdjust="spacing">Gumuser 2023 -UKB-450K-ASCVD</text>
<text transform="translate(233.10 670.65) scale(0.9259 1)" font-size="9.936" text-anchor="middle" fill="#1e1e1e">13129</text>
<text transform="translate(279.60 670.65) scale(0.9259 1)" font-size="9.936" text-anchor="middle" fill="#1e1e1e">10.20</text>
<text transform="translate(466.20 670.65) scale(0.9259 1)" font-size="10.217" text-anchor="middle" fill="#1e1e1e">1.49 [1.17, 1.89]</text>
<line x1="374.27" y1="667.75" x2="401.80" y2="667.75" stroke="#5399c6" stroke-width="1.2" stroke-linecap="square"/>
<rect x="384.47" y="664.08" width="7.35" height="7.35" fill="#24a2dc"/>
<text transform="translate(25.00 682.75) scale(0.9259 1)" font-size="9.936" text-anchor="start" fill="#1e1e1e" textLength="179.37" lengthAdjust="spacing">Jaiswal 2014-JHS/MEC/FUSION/Botnia</text>
<text transform="translate(233.10 682.75) scale(0.9259 1)" font-size="9.936" text-anchor="middle" fill="#1e1e1e">5132</text>
<text transform="translate(279.60 682.75) scale(0.9259 1)" font-size="9.936" text-anchor="middle" fill="#1e1e1e">3.71</text>
<text transform="translate(466.20 682.75) scale(0.9259 1)" font-size="10.217" text-anchor="middle" fill="#1e1e1e">0.90 [0.38, 2.11]</text>
<line x1="309.69" y1="679.85" x2="408.12" y2="679.85" stroke="#5399c6" stroke-width="1.2" stroke-linecap="square"/>
<rect x="356.99" y="677.63" width="4.43" height="4.43" fill="#24a2dc"/>
<text transform="translate(25.00 694.85) scale(0.9259 1)" font-size="9.936" text-anchor="start" fill="#1e1e1e">Kowalec 2021</text>
<text transform="translate(233.10 694.85) scale(0.9259 1)" font-size="9.936" text-anchor="middle" fill="#1e1e1e">1115</text>
<text transform="translate(279.60 694.85) scale(0.9259 1)" font-size="9.936" text-anchor="middle" fill="#1e1e1e">5.81</text>
<text transform="translate(466.20 694.85) scale(0.9259 1)" font-size="10.217" text-anchor="middle" fill="#1e1e1e">1.30 [0.72, 2.34]</text>
<line x1="346.39" y1="691.95" x2="414.07" y2="691.95" stroke="#5399c6" stroke-width="1.2" stroke-linecap="square"/>
<rect x="377.54" y="689.18" width="5.54" height="5.54" fill="#24a2dc"/>
<text transform="translate(25.00 706.95) scale(0.9259 1)" font-size="9.936" text-anchor="start" fill="#1e1e1e" textLength="130.77" lengthAdjust="spacing">Rossi 2022 - Health &amp; Anemia</text>
<text transform="translate(233.10 706.95) scale(0.9259 1)" font-size="9.936" text-anchor="middle" fill="#1e1e1e">1043</text>
<text transform="translate(279.60 706.95) scale(0.9259 1)" font-size="9.936" text-anchor="middle" fill="#1e1e1e">10.52</text>
<text transform="translate(466.20 706.95) scale(0.9259 1)" font-size="10.217" text-anchor="middle" fill="#1e1e1e">1.91 [1.54, 2.37]</text>
<line x1="390.04" y1="704.05" x2="414.80" y2="704.05" stroke="#5399c6" stroke-width="1.2" stroke-linecap="square"/>
<rect x="398.68" y="700.32" width="7.46" height="7.46" fill="#24a2dc"/>
<text transform="translate(25.00 719.25) scale(0.9259 1)" font-size="9.936" text-anchor="start" fill="#1e1e1e" textLength="108.37" lengthAdjust="spacing">Rossi 2022-Monzino80+</text>
<text transform="translate(233.10 719.25) scale(0.9259 1)" font-size="9.936" text-anchor="middle" fill="#1e1e1e">735</text>
<text transform="translate(279.60 719.25) scale(0.9259 1)" font-size="9.936" text-anchor="middle" fill="#1e1e1e">11.61</text>
<text transform="translate(466.20 719.25) scale(0.9259 1)" font-size="10.217" text-anchor="middle" fill="#1e1e1e">2.13 [1.92, 2.36]</text>
<line x1="402.71" y1="716.35" x2="414.55" y2="716.35" stroke="#5399c6" stroke-width="1.2" stroke-linecap="square"/>
<rect x="404.75" y="712.43" width="7.84" height="7.84" fill="#24a2dc"/>
<text transform="translate(25.00 731.65) scale(0.9259 1)" font-size="9.936" text-anchor="start" fill="#1e1e1e" textLength="152.03" lengthAdjust="spacing">Van Zeventer 2021 - Lifelines ≥80y</text>
<text transform="translate(233.10 731.65) scale(0.9259 1)" font-size="9.936" text-anchor="middle" fill="#1e1e1e">621</text>
<text transform="translate(279.60 731.65) scale(0.9259 1)" font-size="9.936" text-anchor="middle" fill="#1e1e1e">6.12</text>
<text transform="translate(466.20 731.65) scale(0.9259 1)" font-size="10.217" text-anchor="middle" fill="#1e1e1e">1.13 [0.65, 1.98]</text>
<line x1="340.51" y1="728.75" x2="404.47" y2="728.75" stroke="#5399c6" stroke-width="1.2" stroke-linecap="square"/>
<rect x="369.42" y="725.91" width="5.69" height="5.69" fill="#24a2dc"/>
<text transform="translate(25.00 743.35) scale(0.9259 1)" font-size="9.936" text-anchor="start" fill="#1e1e1e" textLength="84.00" lengthAdjust="spacing">Wang 2022-WESP</text>
<text transform="translate(233.10 743.35) scale(0.9259 1)" font-size="9.936" text-anchor="middle" fill="#1e1e1e">5545</text>
<text transform="translate(279.60 743.35) scale(0.9259 1)" font-size="9.936" text-anchor="middle" fill="#1e1e1e">10.24</text>
<text transform="translate(466.20 743.35) scale(0.9259 1)" font-size="10.217" text-anchor="middle" fill="#1e1e1e">1.02 [0.81, 1.29]</text>
<line x1="353.15" y1="740.45" x2="379.87" y2="740.45" stroke="#5399c6" stroke-width="1.2" stroke-linecap="square"/>
<rect x="362.71" y="736.77" width="7.36" height="7.36" fill="#24a2dc"/>
<text transform="translate(25.00 755.60) scale(0.9259 1)" font-size="9.936" text-anchor="start" fill="#1e1e1e" textLength="216.22" lengthAdjust="spacing">Heterogeneity: T<tspan font-size="6.8" dy="-4.1">2</tspan><tspan dy="4.1"> = 0.08, I</tspan><tspan font-size="6.8" dy="-4.1">2</tspan><tspan dy="4.1"> = 82.96%, H</tspan><tspan font-size="6.8" dy="-4.1">2</tspan><tspan dy="4.1"> = 5.87</tspan></text>
<text transform="translate(466.20 755.60) scale(0.9259 1)" font-size="10.217" text-anchor="middle" fill="#1e1e1e">1.46 [1.13, 1.88]</text>
<polygon points="372.27,753.10 386.98,749.70 401.50,753.10 386.98,756.50" fill="#c8102e"/>
<line x1="309.20" y1="786.80" x2="414.50" y2="786.80" stroke="#202020" stroke-width="1.2"/>
<line x1="325.45" y1="786.80" x2="325.45" y2="790.20" stroke="#202020" stroke-width="1.1"/>
<text transform="translate(325.45 801.80) scale(0.9259 1)" font-size="10.152" text-anchor="middle" fill="#1e1e1e">1/2</text>
<line x1="365.25" y1="786.80" x2="365.25" y2="790.20" stroke="#202020" stroke-width="1.1"/>
<text transform="translate(365.25 801.80) scale(0.9259 1)" font-size="10.152" text-anchor="middle" fill="#1e1e1e">1</text>
<line x1="405.05" y1="786.80" x2="405.05" y2="790.20" stroke="#202020" stroke-width="1.1"/>
<text transform="translate(405.05 801.80) scale(0.9259 1)" font-size="10.152" text-anchor="middle" fill="#1e1e1e">2</text>
</svg>
</body></html>
